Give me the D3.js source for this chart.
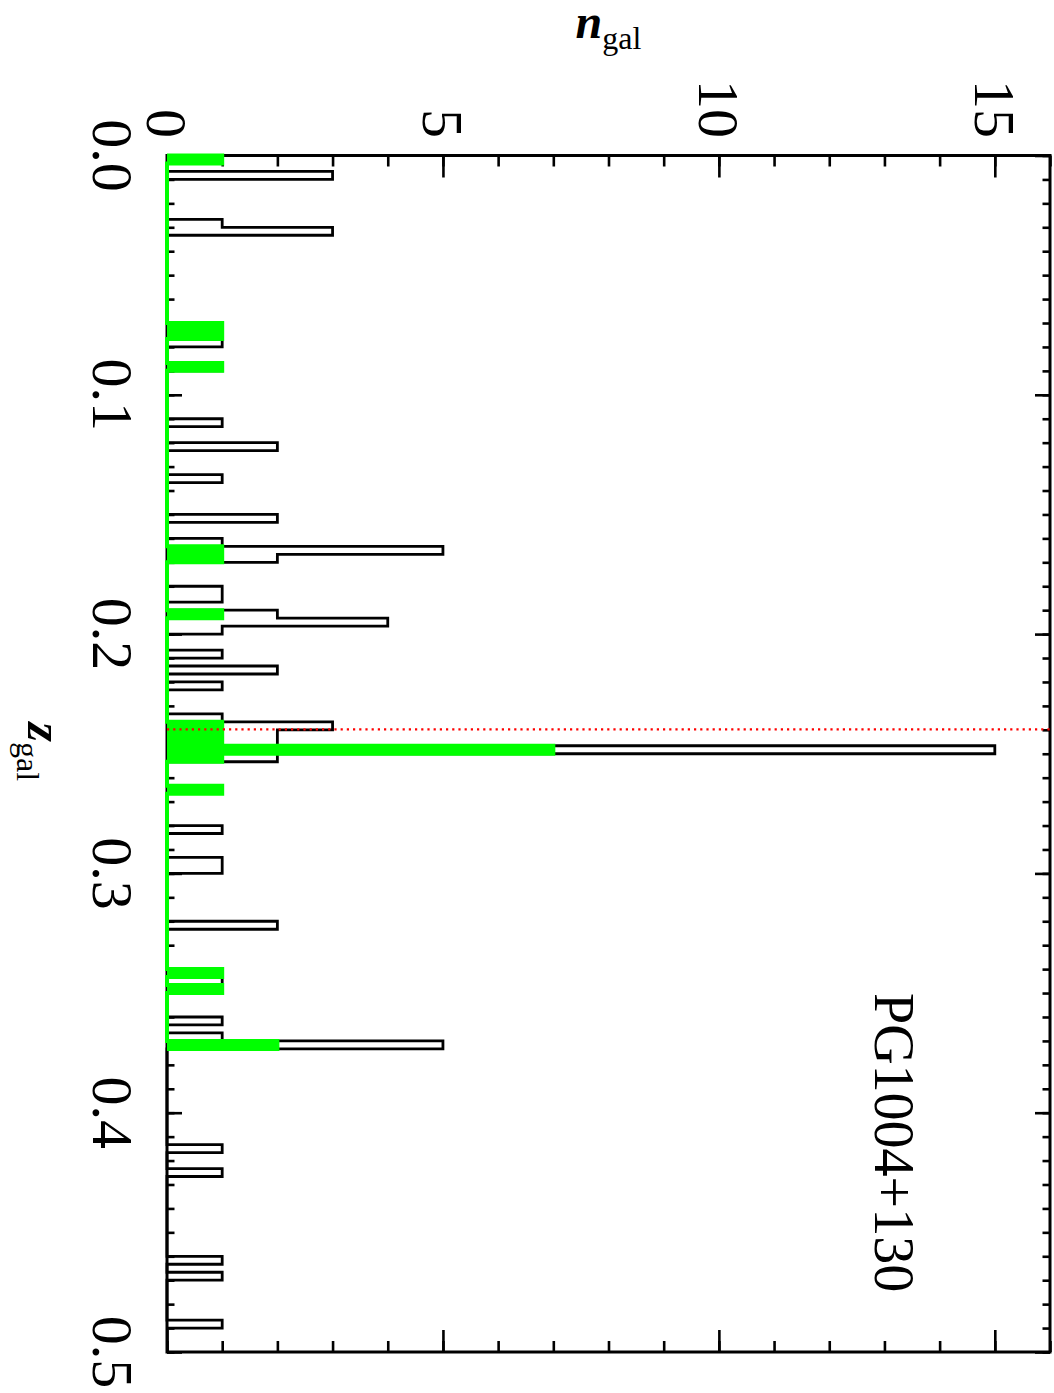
<!DOCTYPE html>
<html>
<head>
<meta charset="utf-8">
<script src="https://cdn.jsdelivr.net/npm/d3@7"></script>
<style>
  body { margin: 0; background: #fff; }
  text { font-family: "Liberation Serif", "Times New Roman", serif; fill: #000; }
</style>
</head>
<body>
<div id="chart"></div>
<script>
var svgWidth = 1054;
var svgHeight = 1393;

// plot frame (the chart is drawn turned by 90 degrees: z runs down, n runs right)
var frame = { left: 167, right: 1050, top: 155.5, bottom: 1352 };

// histogram bins are 1/300 wide in redshift; bin number = floor(z * 300)
var binWidth = 1 / 300;

// all galaxies in the field
var allBins   = [0, 2, 8, 9, 21, 22, 23, 26, 33, 36, 40, 45, 48, 49, 50, 54, 55, 57, 58, 59, 62, 64, 66,
                 70, 71, 72, 73, 74, 75, 79, 84, 88, 89, 96, 102, 103, 104, 108, 110, 111, 124, 127, 138, 140, 146];
var allCounts = [1, 3, 1, 3, 1, 1, 1, 1, 1, 2, 1, 2, 1, 5, 2, 1, 1, 2, 4, 1, 1, 2, 1,
                 1, 3, 2, 2, 15, 2, 1, 1, 1, 1, 2, 1, 1, 1, 1, 1, 5, 1, 1, 1, 1, 1];

// selected galaxies (green)
var selBins   = [0, 21, 22, 26, 49, 50, 57, 71, 72, 73, 74, 75, 79, 102, 104, 111];
var selCounts = [1, 1, 1, 1, 1, 1, 1, 1, 1, 1, 7, 1, 1, 1, 1, 2];

// QSO redshift (red dotted line)
var zQso = 0.2398;

var zTickLabels = ["0.0", "0.1", "0.2", "0.3", "0.4", "0.5"];
var nTickLabels = ["0", "5", "10", "15"];
var targetName = "PG1004+130";

var svg = d3.select("#chart")
  .append("svg")
  .attr("width", svgWidth)
  .attr("height", svgHeight);

svg.append("rect")
  .attr("width", svgWidth)
  .attr("height", svgHeight)
  .attr("fill", "#fff");

var zScale = d3.scaleLinear()
  .domain([0, 0.5])
  .range([frame.top, frame.bottom]);

var nScale = d3.scaleLinear()
  .domain([0, 16])
  .range([frame.left, frame.right]);

// ---- axes (ticks point into the plot) ----
var zMinor = d3.range(0, 51).map(d => d / 100);
var zMajor = zTickLabels.map(d => +d);
var nMinor = d3.range(0, 17);
var nMajor = nTickLabels.map(d => +d);

function tickAxis(axisFn, scale, values, size, transform) {
  var g = svg.append("g")
    .attr("transform", transform)
    .call(axisFn(scale).tickValues(values).tickSize(size).tickFormat(""));
  g.select(".domain").remove();
  g.selectAll(".tick line").attr("stroke", "#000").attr("stroke-width", 2.6);
  return g;
}

tickAxis(d3.axisRight, zScale, zMinor, 7.5, `translate(${frame.left},0)`);
tickAxis(d3.axisRight, zScale, zMajor, 15, `translate(${frame.left},0)`);
tickAxis(d3.axisLeft, zScale, zMinor, 7.5, `translate(${frame.right},0)`);
tickAxis(d3.axisLeft, zScale, zMajor, 15, `translate(${frame.right},0)`);
tickAxis(d3.axisBottom, nScale, nMinor, 11, `translate(0,${frame.top})`);
tickAxis(d3.axisBottom, nScale, nMajor, 22, `translate(0,${frame.top})`);
tickAxis(d3.axisTop, nScale, nMinor, 11, `translate(0,${frame.bottom})`);
tickAxis(d3.axisTop, nScale, nMajor, 22, `translate(0,${frame.bottom})`);

svg.append("rect")
  .attr("x", frame.left)
  .attr("y", frame.top)
  .attr("width", frame.right - frame.left)
  .attr("height", frame.bottom - frame.top)
  .attr("fill", "none")
  .attr("stroke", "#000")
  .attr("stroke-width", 3);

// z tick labels (left, rotated)
svg.selectAll(".zlabel")
  .data(zTickLabels)
  .enter()
  .append("text")
  .attr("class", "zlabel")
  .attr("transform", d => `translate(93,${zScale(+d)}) rotate(90)`)
  .attr("text-anchor", "middle")
  .attr("font-size", 58)
  .text(d => d);

// n tick labels (top, rotated)
svg.selectAll(".nlabel")
  .data(nTickLabels)
  .enter()
  .append("text")
  .attr("class", "nlabel")
  .attr("transform", d => `translate(${nScale(+d)},138) rotate(90)`)
  .attr("text-anchor", "end")
  .attr("dy", "0.34em")
  .attr("font-size", 58)
  .text(d => d);

// axis titles
var nTitle = svg.append("text")
  .attr("x", (frame.left + frame.right) / 2)
  .attr("y", 38)
  .attr("text-anchor", "middle");
nTitle.append("tspan")
  .attr("font-size", 48)
  .attr("font-weight", "bold")
  .attr("font-style", "italic")
  .text("n");
nTitle.append("tspan")
  .attr("font-size", 32)
  .attr("dy", 11)
  .text("gal");

var zTitle = svg.append("text")
  .attr("transform", `translate(28,${(frame.top + frame.bottom) / 2 - 2}) rotate(90)`)
  .attr("text-anchor", "middle");
zTitle.append("tspan")
  .attr("font-size", 50)
  .attr("font-weight", "bold")
  .attr("font-style", "italic")
  .text("z");
zTitle.append("tspan")
  .attr("font-size", 32)
  .attr("dy", 11)
  .text("gal");

// ---- histograms ----
// expand sparse bins into a full run of counts and build step points
function stepPoints(bins, counts) {
  var last = d3.max(bins);
  var full = d3.range(0, last + 1).map(() => 0);
  bins.forEach((b, i) => { full[b] = counts[i]; });
  var pts = [[0, 0]];
  full.forEach((c, k) => pts.push([c, k * binWidth]));
  pts.push([0, (last + 1) * binWidth]);
  return pts;
}

var stepLine = d3.line()
  .x(d => nScale(d[0]))
  .y(d => zScale(d[1]))
  .curve(d3.curveStepBefore);

svg.append("path")
  .attr("d", stepLine(stepPoints(allBins, allCounts)))
  .attr("fill", "none")
  .attr("stroke", "#000")
  .attr("stroke-width", 2.8);

svg.append("path")
  .attr("d", stepLine(stepPoints(selBins, selCounts)))
  .attr("fill", "#00ff00")
  .attr("stroke", "#00ff00")
  .attr("stroke-width", 4);

// QSO redshift
svg.append("line")
  .attr("x1", frame.left)
  .attr("x2", frame.right)
  .attr("y1", zScale(zQso))
  .attr("y2", zScale(zQso))
  .attr("stroke", "#ff0000")
  .attr("stroke-width", 2.3)
  .attr("stroke-dasharray", "2.2 4");

// target name
svg.append("text")
  .attr("transform", "translate(875,993) rotate(90)")
  .attr("font-size", 56)
  .text(targetName);
</script>
</body>
</html>
